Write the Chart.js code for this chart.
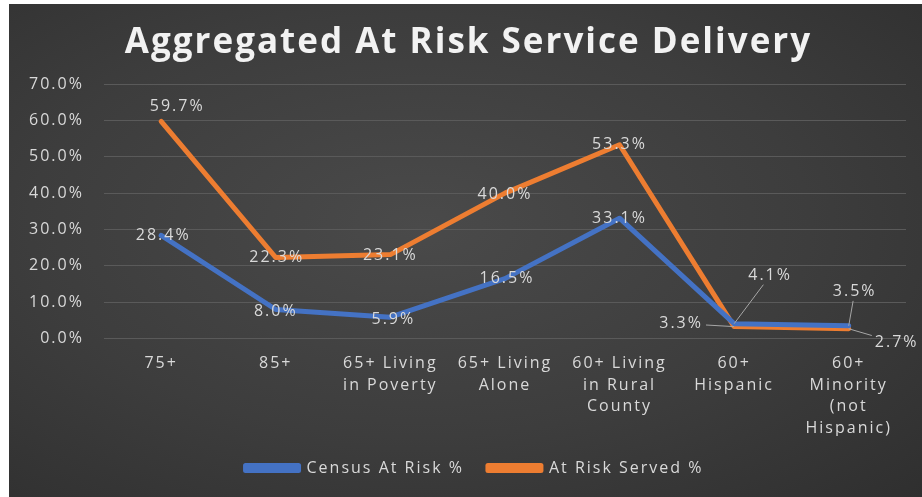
<!DOCTYPE html>
<html>
<head>
<meta charset="utf-8">
<script src="https://cdn.jsdelivr.net/npm/chart.js@4.4.1/dist/chart.umd.min.js"></script>
<style>
  html, body { margin: 0; padding: 0; background: #ffffff; }
  #frame {
    position: absolute; left: 9px; top: 4px; width: 913px; height: 493px;
    overflow: hidden;
    background: radial-gradient(ellipse at 45% 45%, #4a4a4a 0%, #3d3d3d 55%, #2f2f2f 100%);
  }
  #frame canvas { display: block; }
</style>
</head>
<body>
<div id="frame"><canvas id="chart" width="913" height="493"></canvas></div>
<script>
// Categories (multi-line tick labels) and the two series, in percent
const categories = [
  ["75+"],
  ["85+"],
  ["65+ Living", "in Poverty"],
  ["65+ Living", "Alone"],
  ["60+ Living", "in Rural", "County"],
  ["60+", "Hispanic"],
  ["60+", "Minority", "(not", "Hispanic)"]
];
const censusAtRisk = [28.4, 8.0, 5.9, 16.5, 33.1, 4.1, 3.5];
const atRiskServed = [59.7, 22.3, 23.1, 40.0, 53.3, 3.3, 2.7];
const yTickMin = 0;
const yTickMax = 70;
const yTickStep = 10;

// Where each value label sits relative to its point (px), and whether it gets a leader line
const censusLabelPos = [
  { dx: 2, dy: 0 }, { dx: 0, dy: 2 }, { dx: 3, dy: 2 }, { dx: 2, dy: 0 },
  { dx: 0, dy: 0 }, { dx: 36, dy: -48, leader: true }, { dx: 6, dy: -34, leader: true }
];
const servedLabelPos = [
  { dx: 16, dy: -15 }, { dx: 1, dy: 0 }, { dx: 0, dy: 1 }, { dx: 0, dy: 1 },
  { dx: 0, dy: 0 }, { dx: -53, dy: -3, leader: true }, { dx: 48, dy: 14, leader: true }
];

const textColor = '#d9d9d9';
const fontFamily = '"Open Sans", "Liberation Sans", sans-serif';
const letterSpacing = '2px';

// Wide-tracked lettering for every text on the canvas (set before measuring and drawing)
const tracking = {
  id: 'tracking',
  beforeUpdate(chart) { chart.ctx.letterSpacing = letterSpacing; },
  beforeLayout(chart) { chart.ctx.letterSpacing = letterSpacing; },
  beforeDraw(chart) { chart.ctx.letterSpacing = letterSpacing; }
};

// Nudges the title and legend blocks so they centre a little right of the canvas middle
const blockShift = {
  id: 'blockShift',
  afterLayout(chart) {
    chart.titleBlock.left += 22;
    chart.legend.left += 34;
  }
};

// Draws "xx.x%" value labels next to each point, with thin leader lines where offset far
const valueLabels = {
  id: 'valueLabels',
  afterDatasetsDraw(chart) {
    const ctx = chart.ctx;
    ctx.save();
    ctx.font = '16px ' + fontFamily;
    ctx.textAlign = 'center';
    ctx.textBaseline = 'middle';
    chart.data.datasets.forEach((ds, di) => {
      const meta = chart.getDatasetMeta(di);
      const positions = ds.labelPos;
      meta.data.forEach((pt, i) => {
        const p = positions[i];
        const text = ds.data[i].toFixed(1) + '%';
        const lx = pt.x + p.dx;
        const ly = pt.y + p.dy;
        if (p.leader) {
          const w = ctx.measureText(text).width / 2 + 3;
          const h = 9;
          const vx = pt.x - lx, vy = pt.y - ly;
          const t = Math.min(Math.abs(vx) > 0 ? w / Math.abs(vx) : Infinity,
                             Math.abs(vy) > 0 ? h / Math.abs(vy) : Infinity);
          ctx.strokeStyle = '#a6a6a6';
          ctx.lineWidth = 1;
          ctx.beginPath();
          ctx.moveTo(lx + vx * t, ly + vy * t);
          ctx.lineTo(pt.x, pt.y);
          ctx.stroke();
        }
        ctx.fillStyle = textColor;
        ctx.fillText(text, lx, ly);
      });
    });
    ctx.restore();
  }
};

new Chart(document.getElementById('chart'), {
  type: 'line',
  data: {
    labels: categories,
    datasets: [
      {
        label: 'Census At Risk %',
        data: censusAtRisk,
        borderColor: '#4472c4',
        backgroundColor: '#4472c4',
        borderWidth: 5,
        pointRadius: 0,
        tension: 0,
        borderCapStyle: 'round',
        borderJoinStyle: 'round',
        labelPos: censusLabelPos
      },
      {
        label: 'At Risk Served %',
        data: atRiskServed,
        borderColor: '#ed7d31',
        backgroundColor: '#ed7d31',
        borderWidth: 5,
        pointRadius: 0,
        tension: 0,
        borderCapStyle: 'round',
        borderJoinStyle: 'round',
        labelPos: servedLabelPos
      }
    ]
  },
  options: {
    responsive: false,
    animation: false,
    layout: { padding: { left: 0, right: 16, top: 0, bottom: 11 } },
    plugins: {
      title: {
        display: true,
        text: 'Aggregated At Risk Service Delivery',
        color: '#f2f2f2',
        font: { family: fontFamily, size: 35, weight: 'bold', lineHeight: 1.2 },
        padding: { top: 18, bottom: 20 }
      },
      legend: {
        position: 'bottom',
        labels: {
          color: textColor,
          font: { family: fontFamily, size: 16 },
          boxWidth: 53,
          boxHeight: 5,
          padding: 24
        }
      },
      tooltip: { enabled: false }
    },
    scales: {
      x: {
        offset: true,
        grid: { display: false, drawTicks: false },
        border: { display: false },
        afterFit(scale) { scale.height -= 17; },
        ticks: {
          color: textColor,
          font: { family: fontFamily, size: 16, lineHeight: 1.35 },
          padding: 14,
          maxRotation: 0,
          autoSkip: false
        }
      },
      y: {
        min: yTickMin,
        max: yTickMax,
        grid: { color: '#5a5a5a', lineWidth: 1, drawTicks: false },
        border: { display: false },
        ticks: {
          stepSize: yTickStep,
          color: textColor,
          font: { family: fontFamily, size: 16 },
          padding: 20,
          callback: v => v.toFixed(1) + '%'
        }
      }
    }
  },
  plugins: [tracking, blockShift, valueLabels]
});
</script>
</body>
</html>
